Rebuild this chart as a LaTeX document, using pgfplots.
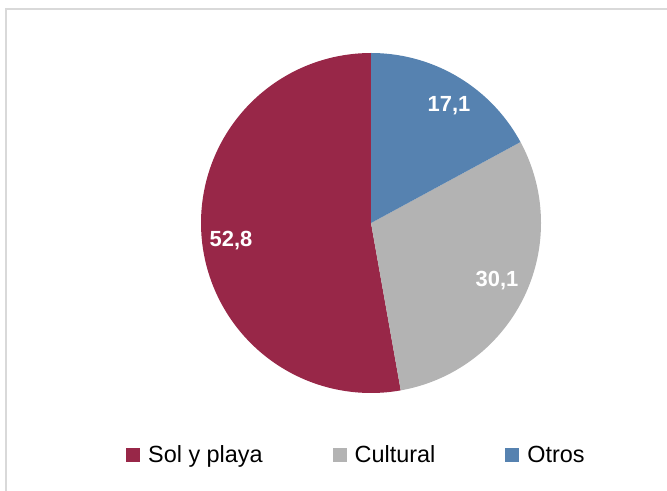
\documentclass[border=0pt]{standalone}
\usepackage{pgfplots}
\pgfplotsset{compat=1.18}
\usepackage{fontspec}
\setmainfont{Liberation Sans}
\definecolor{solc}{RGB}{152,39,72}
\definecolor{culc}{RGB}{179,179,179}
\definecolor{otrc}{RGB}{86,130,176}
\definecolor{framec}{RGB}{217,217,217}
\begin{document}
\begin{tikzpicture}
\def\cx{371}\def\cy{268}\def\r{170}
% shares (percent)
\def\vOtros{17.1}\def\vCultural{30.1}\def\vSol{52.8}
\pgfmathsetmacro\aA{90}
\pgfmathsetmacro\aB{90-3.6*\vOtros}
\pgfmathsetmacro\aC{\aB-3.6*\vCultural}
\pgfmathsetmacro\aD{\aC-3.6*\vSol}
\begin{axis}[
 scale only axis, width=667bp, height=491bp,
 xmin=0,xmax=667,ymin=0,ymax=491,
 hide axis, clip=false,
 legend columns=3,
 legend style={at={(axis cs:126,36)}, anchor=west, draw=none, fill=none,
   font=\fontsize{23.5}{27}\selectfont, inner sep=0pt, nodes={inner sep=0pt},
   /tikz/every odd column/.append style={column sep=8bp},
   /tikz/every even column/.append style={column sep=70bp}},
 legend image code/.code={\fill[#1] (0bp,-7bp) rectangle (14bp,7bp);},
]
\addplot[draw=none, fill=solc, domain=\aD:\aC, samples=150] ({\cx+\r*cos(x)},{\cy+\r*sin(x)}) -- (\cx,\cy) -- cycle;
\addlegendentry{Sol y playa}
\addplot[draw=none, fill=culc, domain=\aC:\aB, samples=100] ({\cx+\r*cos(x)},{\cy+\r*sin(x)}) -- (\cx,\cy) -- cycle;
\addlegendentry{Cultural}
\addplot[draw=none, fill=otrc, domain=\aB:\aA, samples=60] ({\cx+\r*cos(x)},{\cy+\r*sin(x)}) -- (\cx,\cy) -- cycle;
\addlegendentry{Otros}
\node[font=\bfseries\fontsize{22}{26}\selectfont, text=white] at (449,385) {17,1};
\node[font=\bfseries\fontsize{22}{26}\selectfont, text=white] at (497,210) {30,1};
\node[font=\bfseries\fontsize{22}{26}\selectfont, text=white] at (231,250) {52,8};
\draw[framec, line width=1.5bp] (6,-50) -- (6,482) -- (720,482);
\end{axis}
\pgfresetboundingbox
\path (0,0) rectangle (667bp,491bp);
\end{tikzpicture}
\end{document}
